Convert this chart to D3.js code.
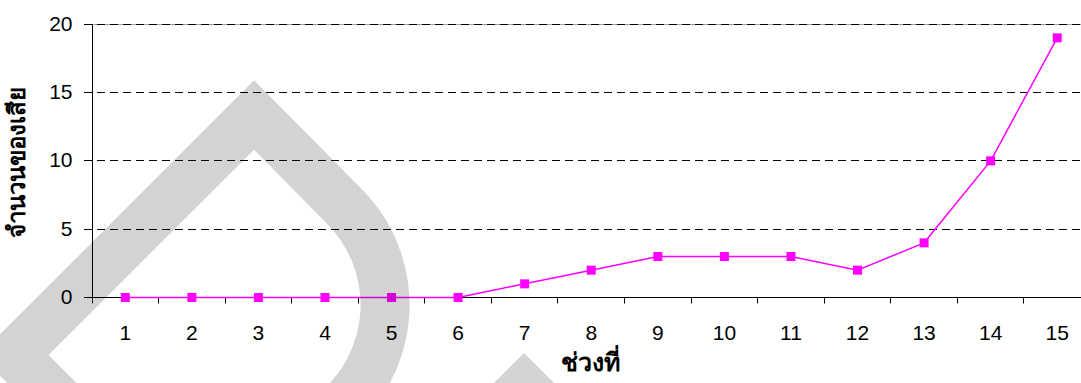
<!DOCTYPE html>
<html>
<head>
<meta charset="utf-8">
<script src="https://cdn.jsdelivr.net/npm/d3@7"></script>
<style>
  html, body { margin: 0; padding: 0; background: #fff; }
  svg { display: block; }
  text { font-family: "Liberation Sans", Arial, sans-serif; }
</style>
</head>
<body>
<svg id="chart" width="1081" height="383"></svg>
<script>
// Defect counts per period
const periods = ["1", "2", "3", "4", "5", "6", "7", "8", "9", "10", "11", "12", "13", "14", "15"];
const defects = [0, 0, 0, 0, 0, 0, 1, 2, 3, 3, 3, 2, 4, 10, 19];
const yTicks = [0, 5, 10, 15, 20];
const yTitle = "จำนวนของเสีย";
const xTitle = "ช่วงที่";

const W = 1081, H = 383;
const svg = d3.select("#chart");

const x = d3.scaleBand().domain(periods).range([92, 1090.5]).padding(0);
const y = d3.scaleLinear().domain([0, 20]).range([297.5, 24.2]);
const crisp = v => Math.floor(v) + 0.5;
const cx = p => x(p) + x.bandwidth() / 2;

// dashed horizontal gridlines
const grid = svg.append("g");
grid.selectAll("line.solidtop")
  .data([20])
  .join("line")
  .attr("x1", 92).attr("x2", W)
  .attr("y1", d => crisp(y(d))).attr("y2", d => crisp(y(d)))
  .attr("stroke", "#a0a0a0").attr("stroke-width", 1);
grid.selectAll("line.dash")
  .data(yTicks.filter(d => d > 0))
  .join("line")
  .attr("x1", 84).attr("x2", W)
  .attr("y1", d => crisp(y(d))).attr("y2", d => crisp(y(d)))
  .attr("stroke", "#000").attr("stroke-width", 1)
  .attr("stroke-dasharray", "8,5");

// y axis
const yAxis = d3.axisLeft(y).tickValues(yTicks).tickSize(8).tickPadding(12).tickFormat(d3.format("d"));
const gy = svg.append("g").attr("transform", "translate(92.5,0)").call(yAxis);
gy.select(".domain").attr("d", `M0,${crisp(y(20))}V${crisp(y(0))}`).attr("stroke", "#000");
gy.selectAll(".tick").attr("transform", d => `translate(0,${crisp(y(d))})`);
gy.selectAll(".tick line").attr("stroke", "#000");
gy.selectAll(".tick text")
  .attr("font-size", 21).attr("fill", "#000")
  .style("font-family", "'Liberation Sans', Arial, sans-serif");

// x axis: baseline, boundary ticks, centered labels
const gx = svg.append("g");
gx.append("line")
  .attr("x1", 84).attr("x2", W)
  .attr("y1", crisp(y(0))).attr("y2", crisp(y(0)))
  .attr("stroke", "#000");
gx.selectAll("line.tick")
  .data(periods)
  .join("line")
  .attr("class", "tick")
  .attr("x1", d => crisp(x(d))).attr("x2", d => crisp(x(d)))
  .attr("y1", crisp(y(0))).attr("y2", crisp(y(0)) + 6)
  .attr("stroke", "#000");
gx.selectAll("text")
  .data(periods)
  .join("text")
  .attr("x", d => cx(d))
  .attr("y", 340)
  .attr("text-anchor", "middle")
  .attr("font-size", 21)
  .attr("fill", "#000")
  .text(d => d);

// series line with square markers
const line = d3.line().x((d, i) => cx(periods[i])).y(d => y(d));
svg.append("path")
  .datum(defects)
  .attr("d", line)
  .attr("fill", "none")
  .attr("stroke", "#ff00ff")
  .attr("stroke-width", 1.5);
const m = 9;
svg.selectAll("rect.marker")
  .data(defects)
  .join("rect")
  .attr("class", "marker")
  .attr("x", (d, i) => cx(periods[i]) - m / 2)
  .attr("y", d => y(d) - m / 2)
  .attr("width", m).attr("height", m)
  .attr("fill", "#ff00ff");

// axis titles
svg.append("text")
  .attr("transform", "translate(16,162) rotate(-90)")
  .attr("text-anchor", "middle")
  .attr("dominant-baseline", "central")
  .attr("font-size", 24)
  .attr("font-weight", "bold")
  .attr("fill", "#000")
  .text(yTitle);
svg.append("text")
  .attr("x", 590).attr("y", 371)
  .attr("text-anchor", "middle")
  .attr("font-size", 25)
  .attr("font-weight", "bold")
  .attr("fill", "#000")
  .text(xTitle);

// translucent drop-shaped emblem laid over the plot
const emblem = svg.append("g").attr("pointer-events", "none");
emblem.append("path")
  .attr("d", "M100,441 L14,355 L254,115 L344,206 A140,140 0 0 1 282,440")
  .attr("fill", "none")
  .attr("stroke", "#000")
  .attr("stroke-opacity", 0.173)
  .attr("stroke-width", 49)
  .attr("stroke-linejoin", "miter")
  .attr("stroke-miterlimit", 10);
emblem.append("path")
  .attr("d", "M524,353 L600,429 L524,505 L448,429 Z")
  .attr("fill", "#000")
  .attr("fill-opacity", 0.173);
</script>
</body>
</html>
